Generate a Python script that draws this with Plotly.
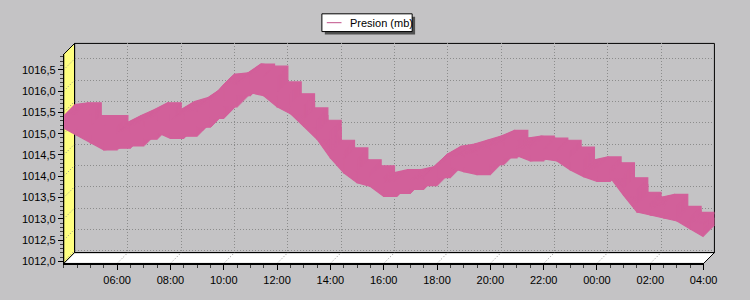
import plotly.graph_objects as go

# ---------------- data ----------------
hora_inicio = 4.0      # 04:00
paso_horas = 0.5       # one low/high reading pair every 30 min
presion_min = [1015.13, 1014.96, 1014.78, 1014.62, 1014.66, 1014.71, 1014.87, 1015.03,
               1014.89, 1014.94, 1015.15, 1015.36, 1015.63, 1015.89, 1015.96, 1015.89,
               1015.63, 1015.47, 1015.17, 1014.87, 1014.43, 1014.08, 1013.85, 1013.76,
               1013.53, 1013.60, 1013.69, 1013.78, 1013.97, 1014.20, 1014.11, 1014.04,
               1014.27, 1014.43, 1014.48, 1014.36, 1014.41, 1014.36, 1014.15, 1013.99,
               1013.88, 1013.97, 1013.55, 1013.16, 1013.09, 1013.02, 1012.95, 1012.76,
               1012.58]
presion_max = [1015.43, 1015.47, 1015.17, 1015.17, 1015.01, 1015.17, 1015.31, 1015.47,
               1015.31, 1015.50, 1015.59, 1015.80, 1016.14, 1016.17, 1016.38, 1016.33,
               1015.96, 1015.68, 1015.35, 1015.06, 1014.59, 1014.41, 1014.13, 1013.99,
               1013.83, 1013.90, 1013.90, 1013.97, 1014.27, 1014.45, 1014.50, 1014.59,
               1014.69, 1014.82, 1014.64, 1014.69, 1014.64, 1014.59, 1014.43, 1014.13,
               1014.20, 1014.06, 1013.71, 1013.37, 1013.25, 1013.32, 1013.04, 1012.90,
               1012.86]

x_ticks = [6, 8, 10, 12, 14, 16, 18, 20, 22, 24, 26, 28]
x_tick_labels = ["06:00", "08:00", "10:00", "12:00", "14:00", "16:00",
                 "18:00", "20:00", "22:00", "00:00", "02:00", "04:00"]
y_ticks = [1012.0, 1012.5, 1013.0, 1013.5, 1014.0, 1014.5, 1015.0, 1015.5, 1016.0, 1016.5]
y_tick_labels = ["1012,0", "1012,5", "1013,0", "1013,5", "1014,0",
                 "1014,5", "1015,0", "1015,5", "1016,0", "1016,5"]
serie_nombre = "Presion (mb)"

# ---------------- geometry / style ----------------
W, H = 750, 300
FX0, FX1 = 65, 717      # front plane, px
FY0, FY1 = 55, 267
DEPTH = 11
X_RANGE = [4, 28]
PX_PER_MB = 43.18
Y_RANGE = [1012.0 - (FY1 - 265) / PX_PER_MB, 1012.0 + (265 - FY0) / PX_PER_MB]
PX_PER_H = (FX1 - FX0) / (X_RANGE[1] - X_RANGE[0])

BG = "#C4C3C5"
PINK = "#D2609A"
GRID = "#8C8C8C"
DOT = "1px,2px"
FONT = dict(family="Liberation Sans, Arial, sans-serif", size=11, color="black")

def px(x):
    return x / W

def py(y):
    return 1 - y / H

horas = [hora_inicio + i * paso_horas for i in range(len(presion_min))]

fig = go.Figure()
layout = dict(
    width=W, height=H, margin=dict(l=0, r=0, t=0, b=0),
    paper_bgcolor=BG, plot_bgcolor="rgba(0,0,0,0)",
    showlegend=False, font=FONT,
)

# axis index 1 -> back plane (grid), last index -> front plane (ticks)
n = DEPTH + 1
for i in range(1, n + 1):
    d = DEPTH - (i - 1)          # depth offset in px
    sx = "" if i == 1 else str(i)
    xa = dict(domain=[px(FX0 + d), px(FX1 + d)], range=X_RANGE,
              anchor="y" + sx, fixedrange=True, zeroline=False)
    ya = dict(domain=[py(FY1 - d), py(FY0 - d)], range=Y_RANGE,
              anchor="x" + sx, fixedrange=True, zeroline=False)
    if d == DEPTH:
        xa.update(showgrid=True, gridcolor=GRID, griddash=DOT, gridwidth=1,
                  tickmode="array", tickvals=x_ticks, showticklabels=False,
                  ticks="", showline=False)
        ya.update(showgrid=True, gridcolor=GRID, griddash=DOT, gridwidth=1,
                  tickmode="array", tickvals=y_ticks, showticklabels=False,
                  ticks="", showline=False)
    elif d == 0:
        xa.update(showgrid=False, tickmode="array", tickvals=x_ticks,
                  ticktext=x_tick_labels, ticks="outside", ticklen=5,
                  tickcolor="black", showline=True, linecolor="black", linewidth=2,
                  minor=dict(tickmode="linear", tick0=4, dtick=0.5, ticks="outside",
                             ticklen=3, tickcolor="#404040", showgrid=False),
                  tickfont=FONT)
        ya.update(showgrid=False, tickmode="array", tickvals=y_ticks,
                  ticktext=y_tick_labels, ticks="outside", ticklen=5,
                  tickcolor="black", showline=True, linecolor="black", linewidth=1,
                  minor=dict(tickmode="linear", tick0=1012.0, dtick=0.1, ticks="outside",
                             ticklen=3, tickcolor="#404040", showgrid=False),
                  tickfont=FONT)
    else:
        xa.update(visible=False)
        ya.update(visible=False)
    layout["xaxis" + sx] = xa
    layout["yaxis" + sx] = ya
    # band between the read lows and highs: a linear one and a stepped one
    for shape in ("linear", "hv"):
        fig.add_trace(go.Scatter(
            x=horas, y=presion_min, mode="lines",
            line=dict(color=PINK, width=1.2, shape=shape),
            xaxis="x" + sx, yaxis="y" + sx, hoverinfo="skip", name=serie_nombre))
        fig.add_trace(go.Scatter(
            x=horas, y=presion_max, mode="lines",
            line=dict(color=PINK, width=1.2, shape=shape),
            fill="tonexty", fillcolor=PINK,
            xaxis="x" + sx, yaxis="y" + sx, hoverinfo="skip", name=serie_nombre))

shapes = []
# left wall (yellow)
shapes.append(dict(type="path", xref="paper", yref="paper", layer="below",
                   path=f"M {px(FX0)},{py(FY0)} L {px(FX0+DEPTH)},{py(FY0-DEPTH)} "
                        f"L {px(FX0+DEPTH)},{py(FY1-DEPTH)} L {px(FX0)},{py(FY1)} Z",
                   fillcolor="#FFFF80", line=dict(color="black", width=1)))
# floor (white)
shapes.append(dict(type="path", xref="paper", yref="paper", layer="below",
                   path=f"M {px(FX0)},{py(FY1)} L {px(FX1)},{py(FY1)} "
                        f"L {px(FX1+DEPTH)},{py(FY1-DEPTH)} L {px(FX0+DEPTH)},{py(FY1-DEPTH)} Z",
                   fillcolor="white", line=dict(color="black", width=1)))
# back wall frame
shapes.append(dict(type="rect", xref="paper", yref="paper", layer="below",
                   x0=px(FX0+DEPTH), x1=px(FX1+DEPTH), y0=py(FY1-DEPTH), y1=py(FY0-DEPTH),
                   line=dict(color="black", width=1), fillcolor="rgba(0,0,0,0)"))
front = "x" + str(n)
fronty = "y" + str(n)
# diagonal grid on wall
for v in y_ticks:
    shapes.append(dict(type="line", xref="paper", yref=fronty, layer="below",
                       x0=px(FX0), x1=px(FX0 + DEPTH), y0=v, y1=v + DEPTH / PX_PER_MB,
                       line=dict(color=GRID, width=1, dash=DOT)))
# diagonal grid on floor
for t in x_ticks:
    shapes.append(dict(type="line", xref=front, yref="paper", layer="below",
                       x0=t, x1=t + DEPTH / PX_PER_H, y0=py(FY1), y1=py(FY1 - DEPTH),
                       line=dict(color=GRID, width=1, dash=DOT)))
# legend box
shapes.append(dict(type="rect", xref="paper", yref="paper", layer="above",
                   x0=px(331), x1=px(423), y0=py(35), y1=py(17),
                   fillcolor="#505050", line=dict(width=0)))
shapes.append(dict(type="rect", xref="paper", yref="paper", layer="above",
                   x0=px(328), x1=px(420), y0=py(32), y1=py(14),
                   fillcolor="white", line=dict(color="black", width=1)))
shapes.append(dict(type="line", xref="paper", yref="paper", layer="above",
                   x0=px(333), x1=px(348), y0=py(23), y1=py(23),
                   line=dict(color="#C05088", width=1)))
layout["shapes"] = shapes
layout["annotations"] = [dict(xref="paper", yref="paper", x=px(355), y=py(23),
                              xanchor="left", yanchor="middle", showarrow=False,
                              text=serie_nombre, font=FONT)]

fig.update_layout(**layout)
fig.write_html("out.html")
